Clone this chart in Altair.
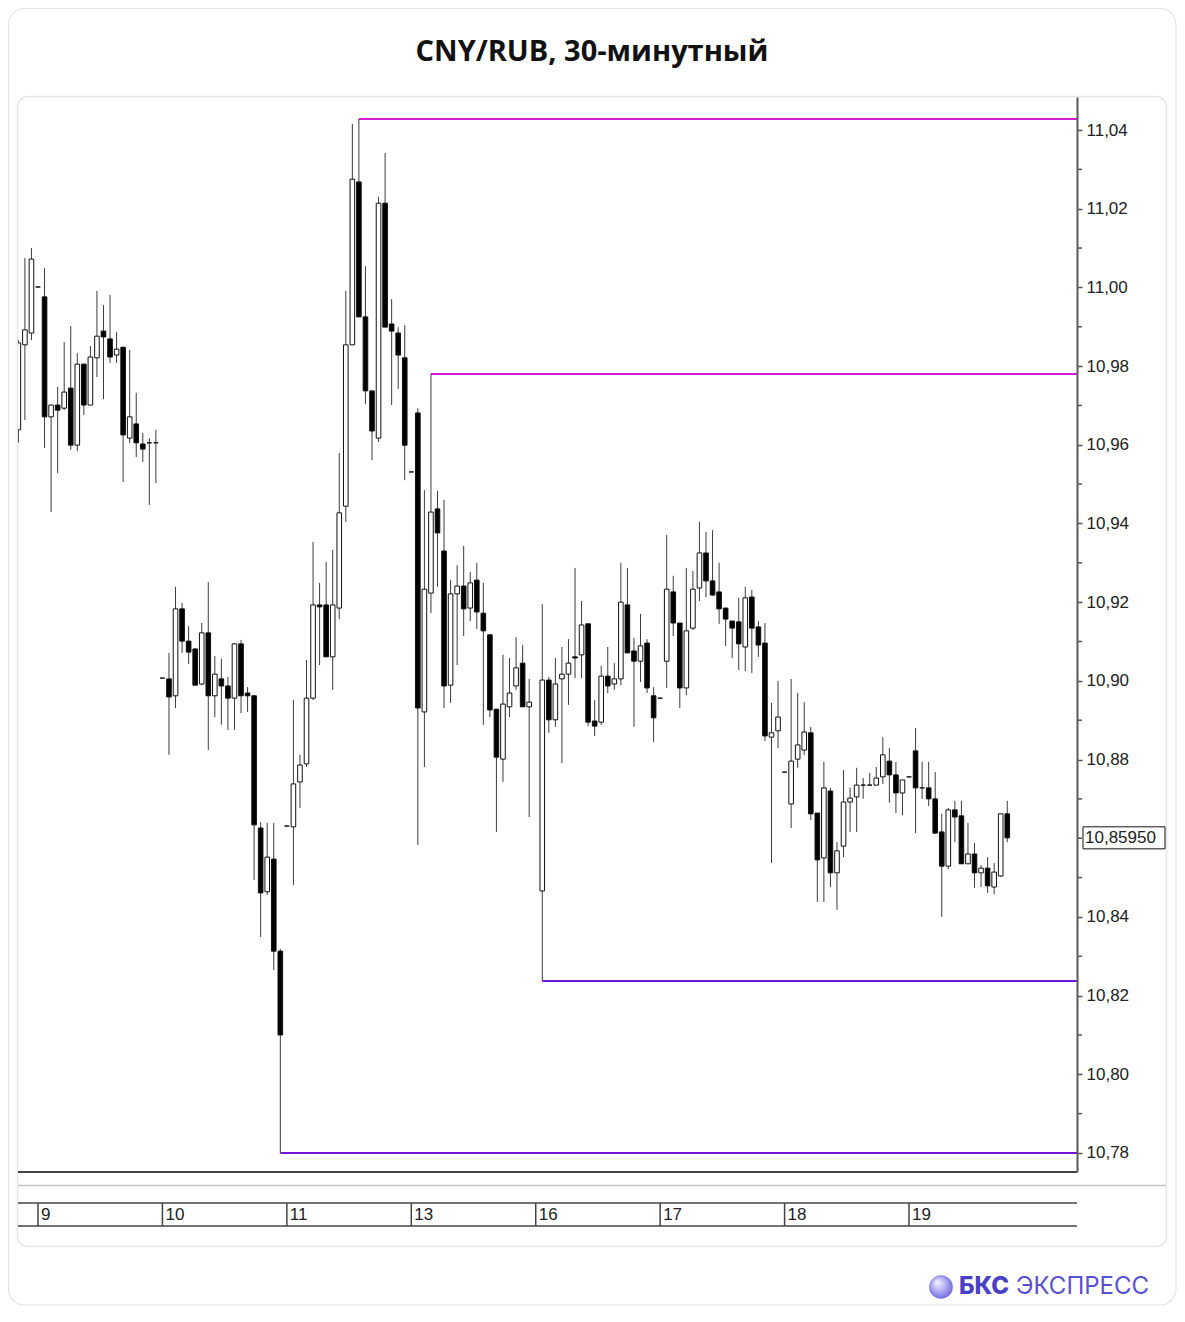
import altair as alt
import pandas as pd

# ---------------- data ----------------
first_slot = -3  # slot index of the first (clipped) candle; day 9 starts at slot 0

opens = [
    10.9638, 10.9854, 10.9884, 11.0001, 10.9976, 10.9671, 10.9701, 10.9693, 10.9744, 10.9599,
    10.9805, 10.9701, 10.9821, 10.9889, 10.9869, 10.9828, 10.9848, 10.9617, 10.9653, 10.9602,
    10.9605, 10.9605, 10.9007, 10.9005, 10.8962, 10.9183, 10.9101, 10.9081, 10.8992, 10.9122,
    10.8962, 10.9005, 10.8987, 10.8956, 10.9094, 10.8969, 10.8962, 10.8626, 10.8464, 10.8547,
    10.8313, 10.8631, 10.8629, 10.8743, 10.8789, 10.8956, 10.9193, 10.9193, 10.9061, 10.9185,
    10.9444, 10.9854, 11.0268, 10.9925, 10.9737, 10.9617, 11.0214, 10.9907, 10.9884, 10.9821,
    10.9531, 10.9681, 10.8921, 10.9223, 10.9437, 10.9330, 10.8989, 10.9221, 10.9241, 10.9185,
    10.9256, 10.9172, 10.9117, 10.8928, 10.8801, 10.8934, 10.8987, 10.9045, 10.8934, None,
    10.8466, 10.9002, 10.8901, 10.9005, 10.9017, 10.9061, 10.9066, 10.9145, 10.8898, 10.8895,
    10.9012, 10.8992, 10.9005, 10.9193, 10.9076, 10.9050, 10.9096, 10.8962, 10.8956, 10.9050,
    10.9226, 10.9147, 10.8982, 10.9134, 10.9236, 10.9325, 10.9254, 10.9226, 10.9185, 10.9152,
    10.9150, 10.9086, 10.9213, 10.9137, 10.9096, 10.8857, 10.8873, 10.8768, 10.8687, 10.8801,
    10.8824, 10.8868, 10.8664, 10.8550, 10.8720, 10.8512, 10.8580, 10.8692, 10.8705, 10.8735,
    10.8735, 10.8735, 10.8756, 10.8796, 10.8761, 10.8715, 10.8756, 10.8822, 10.8728, 10.8728,
    10.8700, 10.8616, 10.8529, 10.8672, 10.8657, 10.8535, 10.8560, 10.8512, 10.8524, 10.8476,
    10.8504, 10.8662,
]
highs = [
    10.9866, 11.0075, 11.0100, 11.0001, 11.0049, 10.9701, 10.9747, 10.9861, 10.9902, 10.9833,
    10.9805, 10.9851, 10.9991, 10.9955, 10.9981, 10.9887, 10.9848, 10.9841, 10.9732, 10.9630,
    10.9617, 10.9638, 10.9007, 10.9071, 10.9239, 10.9198, 10.9139, 10.9084, 10.9147, 10.9251,
    10.9063, 10.9056, 10.9010, 10.9096, 10.9104, 10.8984, 10.8964, 10.8641, 10.8639, 10.8639,
    10.8319, 10.8631, 10.8951, 10.8812, 10.9053, 10.9353, 10.9249, 10.9302, 10.9333, 10.9579,
    10.9991, 11.0415, 11.0428, 11.0054, 10.9737, 11.0230, 11.0342, 10.9970, 10.9899, 10.9904,
    10.9531, 10.9693, 10.9485, 10.9780, 10.9483, 10.9460, 10.9256, 10.9294, 10.9343, 10.9277,
    10.9300, 10.9249, 10.9117, 10.8928, 10.9066, 10.9058, 10.9111, 10.9091, 10.9005, None,
    10.9195, 10.9010, 10.9058, 10.9086, 10.9106, 10.9287, 10.9203, 10.9145, 10.8951, 10.9038,
    10.9086, 10.9045, 10.9300, 10.9287, 10.9109, 10.9170, 10.9106, 10.8984, 10.8956, 10.9371,
    10.9267, 10.9147, 10.9287, 10.9279, 10.9404, 10.9378, 10.9383, 10.9300, 10.9185, 10.9152,
    10.9211, 10.9239, 10.9231, 10.9152, 10.9147, 10.8944, 10.9000, 10.8768, 10.9005, 10.8969,
    10.8946, 10.8883, 10.8664, 10.8794, 10.8728, 10.8590, 10.8773, 10.8728, 10.8779, 10.8753,
    10.8766, 10.8781, 10.8857, 10.8829, 10.8794, 10.8748, 10.8756, 10.8880, 10.8794, 10.8794,
    10.8768, 10.8662, 10.8677, 10.8695, 10.8695, 10.8639, 10.8588, 10.8532, 10.8552, 10.8537,
    10.8662, 10.8695,
]
lows = [
    10.9605, 10.9663, 10.9866, 11.0001, 10.9592, 10.9429, 10.9528, 10.9688, 10.9587, 10.9584,
    10.9676, 10.9701, 10.9772, 10.9716, 10.9808, 10.9808, 10.9505, 10.9605, 10.9569, 10.9556,
    10.9447, 10.9503, 10.9007, 10.8812, 10.8931, 10.9071, 10.9043, 10.8989, 10.8989, 10.8824,
    10.8908, 10.8888, 10.8875, 10.8875, 10.8918, 10.8921, 10.8494, 10.8349, 10.8456, 10.8265,
    10.7800, 10.8631, 10.8481, 10.8677, 10.8781, 10.8951, 10.9040, 10.9061, 10.8977, 10.9157,
    10.9404, 10.9854, 10.9925, 10.9704, 10.9561, 10.9607, 10.9899, 10.9701, 10.9742, 10.9510,
    10.9531, 10.8583, 10.8781, 10.9172, 10.9239, 10.8931, 10.8944, 10.9040, 10.9114, 10.9152,
    10.9132, 10.8888, 10.8908, 10.8616, 10.8743, 10.8908, 10.8977, 10.8934, 10.8654, None,
    10.8237, 10.8868, 10.8883, 10.8791, 10.8939, 10.9007, 10.9007, 10.8885, 10.8860, 10.8888,
    10.8969, 10.8977, 10.8989, 10.9071, 10.8883, 10.8997, 10.8969, 10.8845, 10.8956, 10.8982,
    10.9114, 10.8931, 10.8964, 10.9129, 10.9203, 10.9213, 10.9216, 10.9145, 10.9089, 10.9058,
    10.9028, 10.9025, 10.9020, 10.9061, 10.8847, 10.8537, 10.8829, 10.8768, 10.8626, 10.8779,
    10.8812, 10.8646, 10.8438, 10.8438, 10.8476, 10.8418, 10.8552, 10.8616, 10.8616, 10.8700,
    10.8735, 10.8735, 10.8738, 10.8690, 10.8664, 10.8659, 10.8756, 10.8613, 10.8700, 10.8682,
    10.8611, 10.8400, 10.8522, 10.8590, 10.8535, 10.8535, 10.8474, 10.8476, 10.8461, 10.8458,
    10.8502, 10.8590,
]
closes = [
    10.9859, 10.9892, 11.0072, 11.0001, 10.9671, 10.9701, 10.9688, 10.9734, 10.9599, 10.9805,
    10.9701, 10.9823, 10.9876, 10.9874, 10.9823, 10.9843, 10.9625, 10.9671, 10.9605, 10.9589,
    10.9605, 10.9605, 10.9007, 10.8959, 10.9183, 10.9101, 10.9073, 10.8989, 10.9122, 10.8962,
    10.9017, 10.8987, 10.8956, 10.9094, 10.8962, 10.8962, 10.8634, 10.8461, 10.8552, 10.8313,
    10.8100, 10.8631, 10.8738, 10.8786, 10.8956, 10.9193, 10.9188, 10.9061, 10.9193, 10.9427,
    10.9854, 11.0275, 10.9925, 10.9737, 10.9635, 11.0214, 10.9899, 10.9889, 10.9828, 10.9599,
    10.9531, 10.8931, 10.9233, 10.9429, 10.9376, 10.8987, 10.9221, 10.9241, 10.9183, 10.9249,
    10.9175, 10.9127, 10.8926, 10.8806, 10.8941, 10.8969, 10.9033, 10.8934, 10.8946, None,
    10.9002, 10.8901, 10.8992, 10.9017, 10.9045, 10.9058, 10.9142, 10.8895, 10.8885, 10.9012,
    10.8987, 10.9005, 10.9200, 10.9071, 10.9050, 10.9089, 10.8982, 10.8906, 10.8956, 10.9233,
    10.9147, 10.8982, 10.9127, 10.9233, 10.9325, 10.9254, 10.9218, 10.9183, 10.9157, 10.9134,
    10.9094, 10.9211, 10.9134, 10.9091, 10.8860, 10.8868, 10.8908, 10.8768, 10.8796, 10.8837,
    10.8870, 10.8662, 10.8545, 10.8728, 10.8512, 10.8568, 10.8692, 10.8702, 10.8735, 10.8735,
    10.8735, 10.8753, 10.8812, 10.8761, 10.8715, 10.8748, 10.8756, 10.8728, 10.8728, 10.8700,
    10.8613, 10.8529, 10.8672, 10.8654, 10.8535, 10.8560, 10.8512, 10.8524, 10.8479, 10.8514,
    10.8662, 10.8601,
]

day_labels = ["9", "10", "11", "13", "16", "17", "18", "19"]
day_slots = [0, 19, 38, 57, 76, 95, 114, 133]

level_prices = [11.0428, 10.9780, 10.8237, 10.7800]
level_start = [49, 60, 77, 37]
level_colors = ["#d21ed2", "#d21ed2", "#7416d8", "#7416d8"]

price_ticks = [10.78, 10.80, 10.82, 10.84, 10.88, 10.90, 10.92, 10.94, 10.96, 10.98, 11.00, 11.02, 11.04]
minor_ticks = [10.79, 10.81, 10.83, 10.85, 10.86, 10.87, 10.89, 10.91, 10.93, 10.95, 10.97, 10.99, 11.01, 11.03]
last_quote = 10.85950

title_text = "CNY/RUB, 30-минутный"

# ---------------- geometry ----------------
PW, PH = 1059, 1075
X_DOM = [-3.054, 158.65]
Y_DOM = [10.77517, 11.04839]
xs = alt.Scale(domain=X_DOM, nice=False, zero=False, padding=0)
ys = alt.Scale(domain=Y_DOM, nice=False, zero=False, padding=0)
FONT = "Liberation Sans"

yaxis = alt.Axis(
    orient="right", values=price_ticks, title=None, grid=False, zindex=2,
    labelExpr="replace(format(datum.value, '.2f'), '.', ',')",
    tickSize=5, tickColor="#555555", tickWidth=1.5,
    domainColor="#5a5a5a", domainWidth=2,
    labelFont=FONT, labelFontSize=17, labelColor="#222222", labelPadding=4,
)

rows = []
for i, (o, h, l, c) in enumerate(zip(opens, highs, lows, closes)):
    if o is None:
        continue
    rows.append({
        "s": first_slot + i, "o": o, "h": h, "l": l, "c": c,
        "lo": min(o, c), "hi": max(o, c),
        "fill": "#ffffff" if c > o else "#000000",
    })
df = pd.DataFrame(rows)

df_levels = pd.DataFrame({
    "p": level_prices, "start": level_start,
    "end": [X_DOM[1]] * len(level_prices), "col": level_colors,
})
df_minor = pd.DataFrame({"p": minor_ticks})
df_days = pd.DataFrame({"slot": day_slots, "label": day_labels})
half_box = 0.0028
df_last = pd.DataFrame({
    "p": [closes[-1]], "top": [closes[-1] + half_box], "bot": [closes[-1] - half_box],
    "label": [f"{last_quote:.5f}".replace(".", ",")],
})
one = pd.DataFrame({"a": [0]})

outer_card = alt.Chart(one).mark_rect(
    fill="#ffffff", stroke="#e4e4e4", strokeWidth=1.2, cornerRadius=16
).encode(x=alt.value(-9.5), x2=alt.value(1158), y=alt.value(-88.5), y2=alt.value(1208))

panel = alt.Chart(one).mark_rect(
    fill="#ffffff", stroke="#e6e6e6", strokeWidth=1.5, cornerRadius=10
).encode(x=alt.value(-0.5), x2=alt.value(1148.5), y=alt.value(-0.5), y2=alt.value(1149.5))

title = alt.Chart(one).mark_text(
    text=title_text, font="Open Sans", fontSize=29, fontWeight="bold",
    color="#111111", align="center", baseline="middle"
).encode(x=alt.value(574), y=alt.value(-45))

levels = alt.Chart(df_levels).mark_rule(strokeWidth=2, clip=True).encode(
    x=alt.X("start:Q", scale=xs, axis=None),
    x2="end:Q",
    y=alt.Y("p:Q", scale=ys, axis=yaxis),
    color=alt.Color("col:N", scale=None),
)

wicks = alt.Chart(df).mark_rule(color="#3c3c3c", strokeWidth=1, clip=True).encode(
    x=alt.X("s:Q", scale=xs, axis=None),
    y=alt.Y("h:Q", scale=ys, axis=yaxis),
    y2="l:Q",
)

bodies = alt.Chart(df).mark_bar(width=4.6, stroke="#111111", strokeWidth=1, clip=True).encode(
    x=alt.X("s:Q", scale=xs, axis=None),
    y=alt.Y("lo:Q", scale=ys, axis=yaxis),
    y2="hi:Q",
    fill=alt.Fill("fill:N", scale=None),
)

minor = alt.Chart(df_minor).mark_rule(color="#555555", strokeWidth=1.5).encode(
    x=alt.value(PW), x2=alt.value(PW + 5),
    y=alt.Y("p:Q", scale=ys, axis=yaxis),
)

last_box = alt.Chart(df_last).mark_rect(fill="#ffffff", stroke="#111111", strokeWidth=1).encode(
    x=alt.value(PW + 6), x2=alt.value(PW + 88),
    y=alt.Y("top:Q", scale=ys, axis=yaxis), y2="bot:Q",
)
last_text = alt.Chart(df_last).mark_text(
    font=FONT, fontSize=17, color="#222222", align="left", baseline="middle"
).encode(x=alt.value(PW + 8), y=alt.Y("p:Q", scale=ys, axis=yaxis), text="label:N")

bottom_line = alt.Chart(one).mark_rule(color="#444444", strokeWidth=2).encode(
    x=alt.value(0), x2=alt.value(PW), y=alt.value(PH)
)
separator = alt.Chart(one).mark_rule(color="#c4c4c4", strokeWidth=1.5).encode(
    x=alt.value(0), x2=alt.value(1148), y=alt.value(1088.5)
)
strip_top = alt.Chart(one).mark_rule(color="#444444", strokeWidth=1.5).encode(
    x=alt.value(0), x2=alt.value(PW), y=alt.value(1106)
)
strip_bot = alt.Chart(one).mark_rule(color="#444444", strokeWidth=1.5).encode(
    x=alt.value(0), x2=alt.value(PW), y=alt.value(1129)
)
day_ticks = alt.Chart(df_days).mark_rule(color="#444444", strokeWidth=1.5).encode(
    x=alt.X("slot:Q", scale=xs, axis=None), y=alt.value(1106), y2=alt.value(1129)
)
day_text = alt.Chart(df_days).mark_text(
    font=FONT, fontSize=17, color="#222222", align="left", baseline="middle", dx=3
).encode(x=alt.X("slot:Q", scale=xs, axis=None), y=alt.value(1118), text="label:N")

logo_ball = alt.Chart(one).mark_circle(
    size=560, opacity=1,
    color=alt.Gradient(
        gradient="radial", x1=0.35, y1=0.3, r1=0.05, x2=0.5, y2=0.5, r2=0.6,
        stops=[alt.GradientStop(offset=0, color="#ecebfc"),
               alt.GradientStop(offset=0.55, color="#a59ff0"),
               alt.GradientStop(offset=1, color="#5d54d8")],
    ),
).encode(x=alt.value(923), y=alt.value(1190))
logo_b = alt.Chart(one).mark_text(
    text="БКС", font="Inter", fontSize=24, fontWeight=800, color="#4a40c6",
    align="left", baseline="middle"
).encode(x=alt.value(941), y=alt.value(1190))
logo_e = alt.Chart(one).mark_text(
    text="ЭКСПРЕСС", font="Inter", fontSize=24, color="#5a50d2",
    align="left", baseline="middle"
).encode(x=alt.value(998), y=alt.value(1190))

chart = alt.layer(
    outer_card, panel, title, levels, wicks, bodies, minor, last_box, last_text,
    bottom_line, separator, strip_top, strip_bot, day_ticks, day_text,
    logo_ball, logo_b, logo_e,
).properties(
    width=PW, height=PH,
    autosize=alt.AutoSizeParams(type="none"),
    padding={"left": 10, "top": 89, "right": 100, "bottom": 134},
    background="#ffffff",
).configure_view(stroke=None)

chart.save("out.html", embed_options={"renderer": "svg", "actions": False})
